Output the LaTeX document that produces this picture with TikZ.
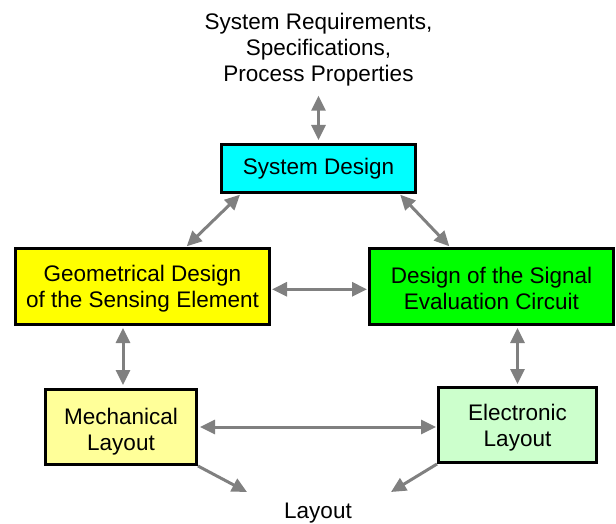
\documentclass[tikz,border=0pt]{standalone}
\usepackage{fontspec}
\setmainfont{Liberation Sans}
\usetikzlibrary{arrows.meta}

\definecolor{linkgray}{HTML}{808080}
\definecolor{sysfill}{HTML}{00FFFF}
\definecolor{geofill}{HTML}{FFFF00}
\definecolor{sigfill}{HTML}{00FF00}
\definecolor{mechfill}{HTML}{FFFF99}
\definecolor{elecfill}{HTML}{CCFFCC}

\newcommand\labelfont{\fontsize{22.5bp}{26bp}\selectfont}
% tall strut opening the first line, to lower a block of text inside its box
\newcommand\topstrut[1]{\rule{0pt}{#1}}

\begin{document}
\begin{tikzpicture}[x=1bp, y=-1bp,
  box/.style={draw=black, line width=2.6bp, align=center, inner sep=0pt, font=\labelfont},
  plain/.style={align=center, inner sep=0pt, font=\labelfont},
  link/.style={draw=linkgray, line width=3bp,
    arrows={-Triangle[length=15bp, width=14bp]}},
  bilink/.style={draw=linkgray, line width=3bp,
    arrows={Triangle[length=15bp, width=14bp]-Triangle[length=15bp, width=14bp]}}]
\useasboundingbox (0,0) rectangle (616,524);

% boxes
\node[box, fill=sysfill, minimum width=194.4bp, minimum height=48.4bp] (sys) at (318.5,168.5) {System Design};
\node[box, fill=geofill, minimum width=254.4bp, minimum height=76.4bp] (geo) at (142.5,286.5) {\topstrut{21.5bp}Geometrical Design\\of the Sensing Element};
\node[box, fill=sigfill, minimum width=244.4bp, minimum height=76.4bp] (sig) at (491.5,286.5) {\topstrut{21bp}Design of the Signal\\Evaluation Circuit};
\node[box, fill=mechfill, minimum width=151.4bp, minimum height=75.4bp] (mech) at (121,427) {\topstrut{26bp}Mechanical\\Layout};
\node[box, fill=elecfill, minimum width=158.4bp, minimum height=75.4bp] (elec) at (517.5,425) {\topstrut{22bp}Electronic\\Layout};

% free-standing texts
\node[plain] (req) at (318.5,50) {System Requirements,\\Specifications,\\Process Properties};
\node[plain] (lay) at (318,513) {Layout};

% connectors
\draw[bilink, shorten <=9bp, shorten >=3bp] (req.south) -- (sys.north);
\draw[bilink, shorten <=1bp, shorten >=1bp] ([xshift=20.7bp]sys.south west) -- ([xshift=43.5bp]geo.north);
\draw[bilink, shorten <=1bp, shorten >=1bp] ([xshift=-17.5bp]sys.south east) -- ([xshift=-41.5bp]sig.north);
\draw[bilink, shorten <=1bp, shorten >=1bp] ([yshift=-2.8bp]geo.east) -- ([yshift=-2.8bp]sig.west);
\draw[bilink, shorten <=2bp, shorten >=3bp] ([xshift=2bp]mech.north |- geo.south) -- ([xshift=2bp]mech.north);
\draw[bilink, shorten <=2bp, shorten >=2bp] (elec.north |- sig.south) -- (elec.north);
\draw[bilink, shorten <=2bp, shorten >=1bp] (mech.east) -- (mech.east -| elec.west);
\draw[link] (mech.south east) -- ([xshift=-71bp, yshift=21bp]lay.center);
\draw[link] (elec.south west) -- ([xshift=73bp, yshift=21bp]lay.center);
\end{tikzpicture}
\end{document}
